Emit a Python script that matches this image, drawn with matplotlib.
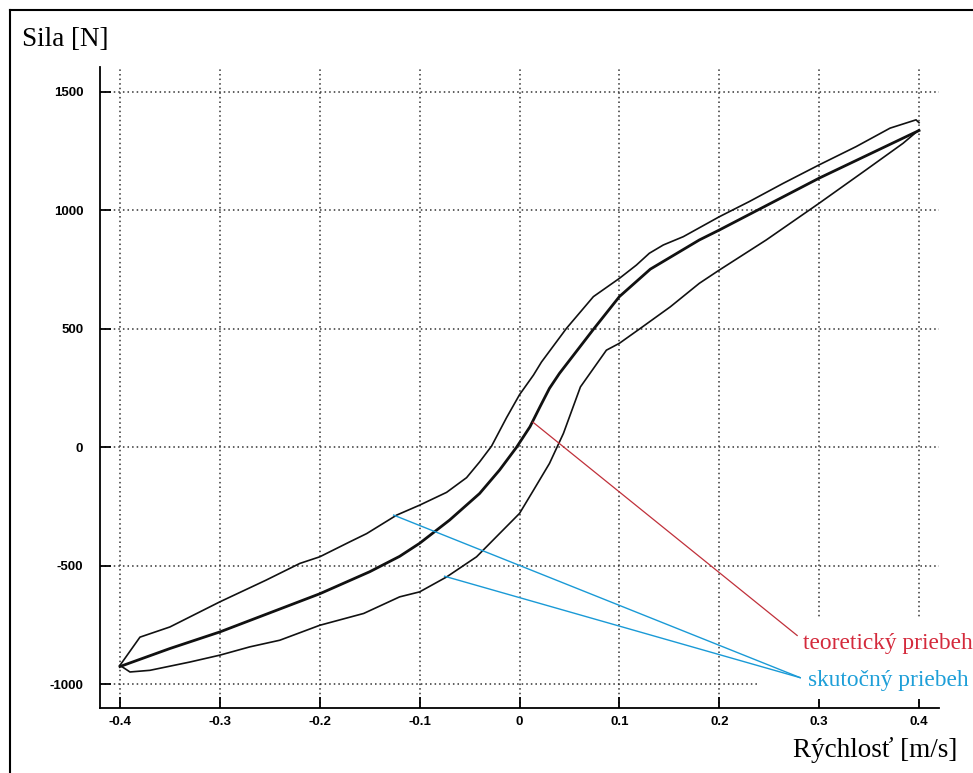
import matplotlib
matplotlib.use("Agg")
import matplotlib.pyplot as plt
from matplotlib.lines import Line2D
from matplotlib.patches import Rectangle

plt.rcParams['axes.unicode_minus'] = False

# measured loop - upper branch (velocity m/s, force N)
v_up = [-0.4, -0.38, -0.35, -0.30, -0.254, -0.22, -0.2, -0.17, -0.153, -0.123, -0.1,
        -0.073, -0.053, -0.04, -0.028, -0.013, 0.0, 0.014, 0.022, 0.047, 0.074, 0.1,
        0.117, 0.13, 0.144, 0.164, 0.2, 0.23, 0.264, 0.3, 0.337, 0.371, 0.397, 0.4]
f_up = [-920, -801, -758, -652, -561, -490, -462, -399, -364, -286, -244,
        -190, -128, -62, 5, 125, 222, 305, 360, 502, 636, 713,
        769, 819, 854, 889, 973, 1037, 1114, 1192, 1269, 1347, 1382, 1370]

# measured loop - lower branch
v_lo = [-0.4, -0.39, -0.37, -0.33, -0.3, -0.27, -0.24, -0.2, -0.156, -0.12, -0.1,
        -0.073, -0.043, -0.02, 0.0, 0.014, 0.03, 0.044, 0.061, 0.087, 0.1, 0.121,
        0.151, 0.18, 0.2, 0.247, 0.3, 0.347, 0.384, 0.4]
f_lo = [-920, -948, -941, -906, -877, -842, -814, -751, -701, -631, -610,
        -547, -462, -364, -279, -181, -68, 59, 255, 410, 439, 502,
        593, 692, 748, 875, 1030, 1171, 1283, 1340]

# theoretical curve
v_th = [-0.4, -0.35, -0.3, -0.2, -0.15, -0.12, -0.1, -0.07, -0.04, -0.02, -0.003,
        0.0105, 0.0205, 0.03, 0.04, 0.074, 0.1, 0.131, 0.18, 0.2, 0.3, 0.4]
f_th = [-925, -849, -779, -618, -525, -460, -405, -307, -195, -96, 0,
        87, 171, 249, 312, 498, 636, 752, 875, 917, 1136, 1337]

# callout lines
red_v = [0.0135, 0.278]
red_f = [106, -794]
blue1_v = [-0.126, 0.281]
blue1_f = [-286, -972]
blue2_v = [-0.075, 0.281]
blue2_f = [-544, -972]

xticks = [-0.4, -0.3, -0.2, -0.1, 0, 0.1, 0.2, 0.3, 0.4]
xticklabels = ['-0.4', '-0.3', '-0.2', '-0.1', '0', '0.1', '0.2', '0.3', '0.4']
yticks = [-1000, -500, 0, 500, 1000, 1500]

fig = plt.figure(figsize=(9.73, 7.73), dpi=100)
ax = fig.add_axes([100/973, 1-708/773, 839/973, 641/773])

ax.plot(v_up, f_up, color='#111111', lw=1.2)
ax.plot(v_lo, f_lo, color='#111111', lw=1.2)
ax.plot(v_th, f_th, color='#111111', lw=2.0)

# white patch behind the callout labels (hides the grid there)
ax.add_patch(Rectangle((0.2405, -1060), 0.22, 343, facecolor='white',
                       edgecolor='none', zorder=1.8, clip_on=False))

ax.plot(red_v, red_f, color='#c0303a', lw=0.9)
ax.plot(blue1_v, blue1_f, color='#1a9ad6', lw=1.0)
ax.plot(blue2_v, blue2_f, color='#1a9ad6', lw=1.0)

ax.set_xlim(-0.42, 0.42)
ax.set_ylim(-1100, 1605)
ax.set_xticks(xticks)
ax.set_xticklabels(xticklabels)
ax.set_yticks(yticks)
for s in ['top', 'right']:
    ax.spines[s].set_visible(False)
for s in ['left', 'bottom']:
    ax.spines[s].set_linewidth(1.3)
ax.tick_params(direction='in', length=8, width=1.3, labelsize=9.5, pad=6)
ax.tick_params(axis='y', pad=12)
for lab in ax.get_xticklabels() + ax.get_yticklabels():
    lab.set_fontfamily('Liberation Sans')
    lab.set_fontweight('bold')
ax.grid(True, color='#333333', lw=1.1, linestyle=(0, (1, 2)))

ax.text(0.284, -826, 'teoretický priebeh', color='#d42a3c', fontsize=16.8,
        family='Liberation Serif', va='center', ha='left', zorder=3)
ax.text(0.289, -982, 'skutočný priebeh', color='#1e9fd8', fontsize=16.8,
        family='Liberation Serif', va='center', ha='left', zorder=3)

fig.text(22/973, 1-40/773, 'Sila [N]', fontsize=19.5, family='Liberation Serif', va='center')
fig.text(793/973, 1-750/773, 'Rýchlosť [m/s]', fontsize=19.5, family='Liberation Serif', va='center')

# outer frame (left and top)
fig.add_artist(Line2D([10/973, 10/973], [0, 1-10/773], color='black', lw=1.5))
fig.add_artist(Line2D([10/973, 1], [1-10/773, 1-10/773], color='black', lw=1.5))

fig.savefig('out.png', dpi=100)
